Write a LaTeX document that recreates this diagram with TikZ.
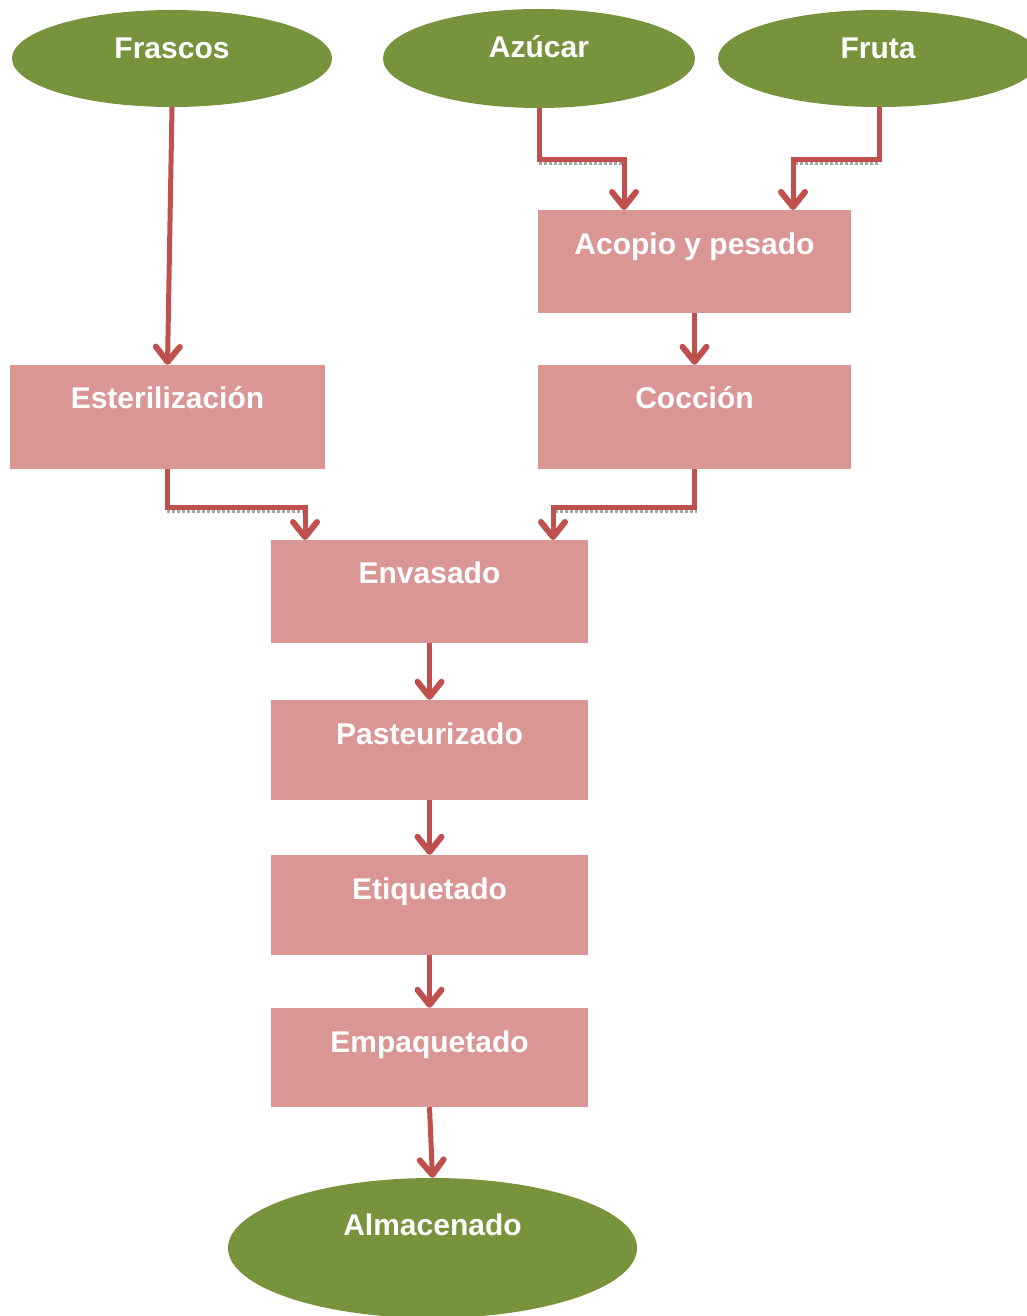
\documentclass[tikz,border=0pt]{standalone}
\usepackage{fontspec}
\setmainfont{Liberation Sans}
\usetikzlibrary{shapes.geometric,arrows.meta}
\definecolor{oval}{HTML}{77933C}
\definecolor{boxc}{HTML}{D99694}
\definecolor{arr}{HTML}{C0504D}
\tikzset{
  ovalnode/.style={ellipse, fill=oval, draw=none, inner sep=0pt},
  boxnode/.style={rectangle, fill=boxc, draw=none, inner sep=0pt, minimum width=315, minimum height=102},
  lbl/.style={anchor=base, text=white, font=\fontsize{30}{35}\selectfont\bfseries, inner sep=0pt},
  flow/.style={draw=arr, line width=5pt, line join=miter, -{Straight Barb[length=15pt, width=24pt, line width=6pt, round]}},
  shadowline/.style={draw=gray!70, line width=3pt, dotted, line cap=butt}
}
\begin{document}
\begin{tikzpicture}[x=1pt,y=-1pt]
\useasboundingbox (0,0) rectangle (1027,1316);
\clip (0,0) rectangle (1027,1316);
\fill[white] (0,0) rectangle (1027,1316);
% ovals
\node[ovalnode, minimum width=320, minimum height=97] (fr) at (172,58.5) {};
\node[ovalnode, minimum width=312, minimum height=99] (az) at (539,58.5) {};
\node[ovalnode, minimum width=322, minimum height=97] (fu) at (879,58.5) {};
\node[ovalnode, minimum width=409, minimum height=140] (al) at (432.5,1248) {};
% boxes
\node[boxnode, minimum width=313, minimum height=103] (ac) at (694.5,261.5) {};
\node[boxnode, minimum width=315, minimum height=104] (es) at (167.5,417) {};
\node[boxnode, minimum width=313, minimum height=104] (co) at (694.5,417) {};
\node[boxnode, minimum width=317, minimum height=103] (en) at (429.5,591.5) {};
\node[boxnode, minimum width=317, minimum height=100] (pa) at (429.5,750) {};
\node[boxnode, minimum width=317, minimum height=100] (et) at (429.5,905) {};
\node[boxnode, minimum width=317, minimum height=99] (em) at (429.5,1057.5) {};
% labels
\node[lbl] (tfr) at (172,59) {Frascos};
\node[lbl] (taz) at (539,58) {Azúcar};
\node[lbl] (tfu) at (878,59) {Fruta};
\node[lbl] (tac) at (694.5,254) {Acopio y pesado};
\node[lbl] (tes) at (167.5,408) {Esterilización};
\node[lbl] (tco) at (694.5,408) {Cocción};
\node[lbl] (ten) at (429.5,583) {Envasado};
\node[lbl] (tpa) at (429.5,744) {Pasteurizado};
\node[lbl] (tet) at (429.5,899) {Etiquetado};
\node[lbl] (tem) at (429.5,1052) {Empaquetado};
\node[lbl] (tal) at (432.5,1235) {Almacenado};
% target coordinates
\coordinate (acL) at (624,210);
\coordinate (acR) at (793,210);
\coordinate (enL) at (305,540);
\coordinate (enR) at (553,540);
% shadows of horizontal segments
\draw[shadowline] (539,164) -- (622,164);
\draw[shadowline] (795,164) -- (880,164);
\draw[shadowline] (167,511) -- (303,511);
\draw[shadowline] (555,511) -- (697,511);
% connectors
\draw[flow] (fr.south) -- (es.north);
\draw[flow] (az.south) |- (580,160) -| (acL);
\draw[flow] (fu.south) |- (840,160) -| (acR);
\draw[flow] (ac.south) -- (co.north);
\draw[flow] (es.south) |- (240,507) -| (enL);
\draw[flow] (co.south) |- (620,507) -| (enR);
\draw[flow] (en.south) -- (pa.north);
\draw[flow] (pa.south) -- (et.north);
\draw[flow] (et.south) -- (em.north);
\draw[flow] (em.south) -- (al.north);
\end{tikzpicture}
\end{document}
